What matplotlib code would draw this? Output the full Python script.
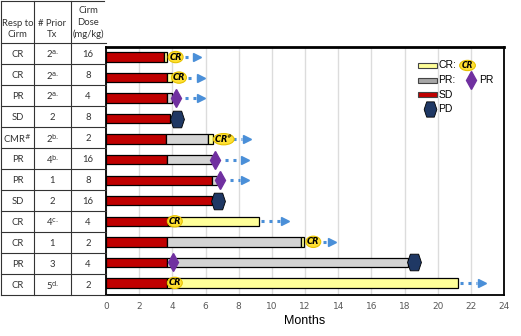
import numpy as np
import matplotlib
matplotlib.use("Agg")
import matplotlib.pyplot as plt
from matplotlib.patches import Ellipse, Rectangle
from matplotlib.lines import Line2D

# ---------------- data ----------------
resp = ["CR", "CR", "PR", "SD", r"CMR$^{\#}$", "PR", "PR", "SD", "CR", "CR", "PR", "CR"]
prior = [r"2$^{\mathrm{a.}}$", r"2$^{\mathrm{a.}}$", r"2$^{\mathrm{a.}}$", "2",
         r"2$^{\mathrm{b.}}$", r"4$^{\mathrm{b.}}$", "1", "2",
         r"4$^{\mathrm{c.}}$", "1", "3", r"5$^{\mathrm{d.}}$"]
dose = [16, 8, 4, 8, 2, 16, 8, 16, 4, 2, 4, 2]

nan = np.nan
sd_end = [3.5, 3.7, 3.7, 3.86, 3.6, 3.67, 6.4, 6.4, 3.75, 3.65, 3.7, 3.7]
pr_end = [nan, nan, 4.0, nan, 6.15, 6.4, 6.7, nan, nan, 11.75, 18.2, nan]
cr_end = [3.7, 4.0, nan, nan, 6.45, nan, nan, nan, 9.2, 11.95, nan, 21.2]

cr_mark = [4.2, 4.4, nan, nan, 7.1, nan, nan, nan, 4.15, 12.5, nan, 4.15]
cr_text = ["CR", "CR", "", "", r"CR$^{\#}$", "", "", "", "CR", "CR", "", "CR"]
pr_mark = [nan, nan, 4.2, nan, nan, 6.6, 6.9, nan, nan, nan, 4.05, nan]
pd_mark = [nan, nan, nan, 4.3, nan, nan, nan, 6.75, nan, nan, 18.6, nan]
arrow_end = [5.5, 5.7, 5.7, nan, 8.5, 8.4, 8.4, nan, 10.8, 13.6, nan, 22.7]

RED = "#C00000"
GRAY = "#D4D4D4"
YEL = "#FFFF99"
GOLD = "#FFE033"
PURP = "#7030A0"
NAVY = "#1F3864"
BLUE = "#4A8FD8"

hexagon = [(-0.5, 0), (-0.3, 0.6), (0.3, 0.6), (0.5, 0), (0.3, -0.6), (-0.3, -0.6), (-0.5, 0)]

W, H = 521, 336
fig = plt.figure(figsize=(W / 100, H / 100), dpi=100)
ax = fig.add_axes([106 / W, 1 - 295 / H, 398 / W, 248 / H])

n = len(resp)
bh = 0.46
for i in range(n):
    ax.barh(i, sd_end[i], left=0, height=bh, color=RED, edgecolor="black", lw=0.9, zorder=3)
    left = sd_end[i]
    if not np.isnan(pr_end[i]):
        ax.barh(i, pr_end[i] - left, left=left, height=bh, color=GRAY, edgecolor="black", lw=0.9, zorder=3)
        left = pr_end[i]
    if not np.isnan(cr_end[i]):
        ax.barh(i, cr_end[i] - left, left=left, height=bh, color=YEL, edgecolor="black", lw=0.9, zorder=3)
        left = cr_end[i]

    mx = nan
    if not np.isnan(cr_mark[i]):
        mx = cr_mark[i]
        wid = 1.25 if "#" in cr_text[i] else 0.9
        ax.add_patch(Ellipse((mx, i), wid, 0.55, facecolor=GOLD, edgecolor="#E6C200", lw=0.8, zorder=5))
        ax.text(mx, i, cr_text[i], ha="center", va="center", fontsize=6, fontweight="bold",
                style="italic", color="black", zorder=6)
    if not np.isnan(pr_mark[i]):
        mx = pr_mark[i]
        ax.plot(mx, i, marker="d", ms=9, color=PURP, mec=PURP, zorder=5)
    if not np.isnan(pd_mark[i]):
        mx = pd_mark[i]
        ax.plot(mx, i, marker=hexagon, ms=12, color=NAVY, mec="black", mew=0.6, zorder=5)

    if not np.isnan(arrow_end[i]):
        start = max(left, mx + 0.45) + 0.12
        ax.plot([start, arrow_end[i] - 0.3], [i, i], color=BLUE, lw=2.2,
                linestyle=(0, (1, 1.6)), zorder=4)
        ax.plot(arrow_end[i], i, marker=">", ms=6, color=BLUE, zorder=4)

# ---------------- legend (drawn by hand) ----------------
lx0, lx1 = 18.8, 19.95
ax.add_patch(Rectangle((lx0, 0.3), lx1 - lx0, 0.22, facecolor=YEL, edgecolor="#444444", lw=0.8, zorder=5))
ax.text(20.05, 0.41, "CR:", fontsize=7.5, va="center", family="Liberation Sans")
ax.add_patch(Ellipse((21.8, 0.41), 0.95, 0.5, facecolor=GOLD, edgecolor="#E6C200", lw=0.8, zorder=5))
ax.text(21.8, 0.41, "CR", fontsize=5.5, fontweight="bold", style="italic", ha="center", va="center", zorder=6)
ax.add_patch(Rectangle((lx0, 1.03), lx1 - lx0, 0.22, facecolor="#A6A6A6", edgecolor="#444444", lw=0.8, zorder=5))
ax.text(20.05, 1.14, "PR:", fontsize=7.5, va="center", family="Liberation Sans")
ax.plot(22.0, 1.14, marker="d", ms=9, color=PURP, zorder=5)
ax.text(22.5, 1.14, "PR", fontsize=7.5, va="center", family="Liberation Sans")
ax.add_patch(Rectangle((lx0, 1.72), lx1 - lx0, 0.22, facecolor=RED, edgecolor="#444444", lw=0.8, zorder=5))
ax.text(20.05, 1.83, "SD", fontsize=7.5, va="center", family="Liberation Sans")
ax.plot(19.55, 2.53, marker=hexagon, ms=11, color=NAVY, mec="black", mew=0.6, zorder=5)
ax.text(20.05, 2.53, "PD", fontsize=7.5, va="center", family="Liberation Sans")

# ---------------- axes ----------------
ax.set_xlim(0, 24)
ax.set_ylim(n - 1 + 0.59, -0.49)
ax.set_xticks(np.arange(0, 25, 2))
ax.set_yticks([])
ax.tick_params(axis="x", length=0, labelsize=6.5, labelcolor="#595959", pad=5)
ax.grid(axis="x", color="#DCDCDC", lw=1, zorder=0)
ax.set_axisbelow(True)
for s in ax.spines.values():
    s.set_color("black")
    s.set_linewidth(1.3)
ax.spines["top"].set_linewidth(2)
ax.set_xlabel("Months", fontsize=9, family="Liberation Sans", labelpad=3)

# ---------------- table ----------------
def fy(py):
    return 1 - py / H

col_x = [1, 34, 71, 106]
row0, rh = 43, 21
for cx in col_x[:3]:
    fig.add_artist(Line2D([cx / W, cx / W], [fy(1), fy(row0 + rh * n)], color="#333333", lw=0.8))
fig.add_artist(Line2D([1 / W, 104 / W], [fy(1), fy(1)], color="#333333", lw=0.8))
for k in range(n + 1):
    y = row0 + rh * k
    fig.add_artist(Line2D([1 / W, 106 / W], [fy(y), fy(y)], color="#333333", lw=0.8))

centers = [17.5, 52.5, 88]
headers = ["Resp to\nCirm", "# Prior\nTx", "Cirm\nDose\n(mg/kg)"]
for cx, h in zip(centers, headers):
    fig.text(cx / W, fy(row0 - 4), h, ha="center", va="bottom", fontsize=6.8,
             family="Lato", color="#333333", linespacing=1.35)
for k in range(n):
    yc = fy(row0 + rh * k + rh / 2 + 1)
    for cx, val in zip(centers, [resp[k], prior[k], str(dose[k])]):
        fig.text(cx / W, yc, val, ha="center", va="center", fontsize=6.8, family="Lato", color="#333333")

fig.savefig("out.png", dpi=100)
